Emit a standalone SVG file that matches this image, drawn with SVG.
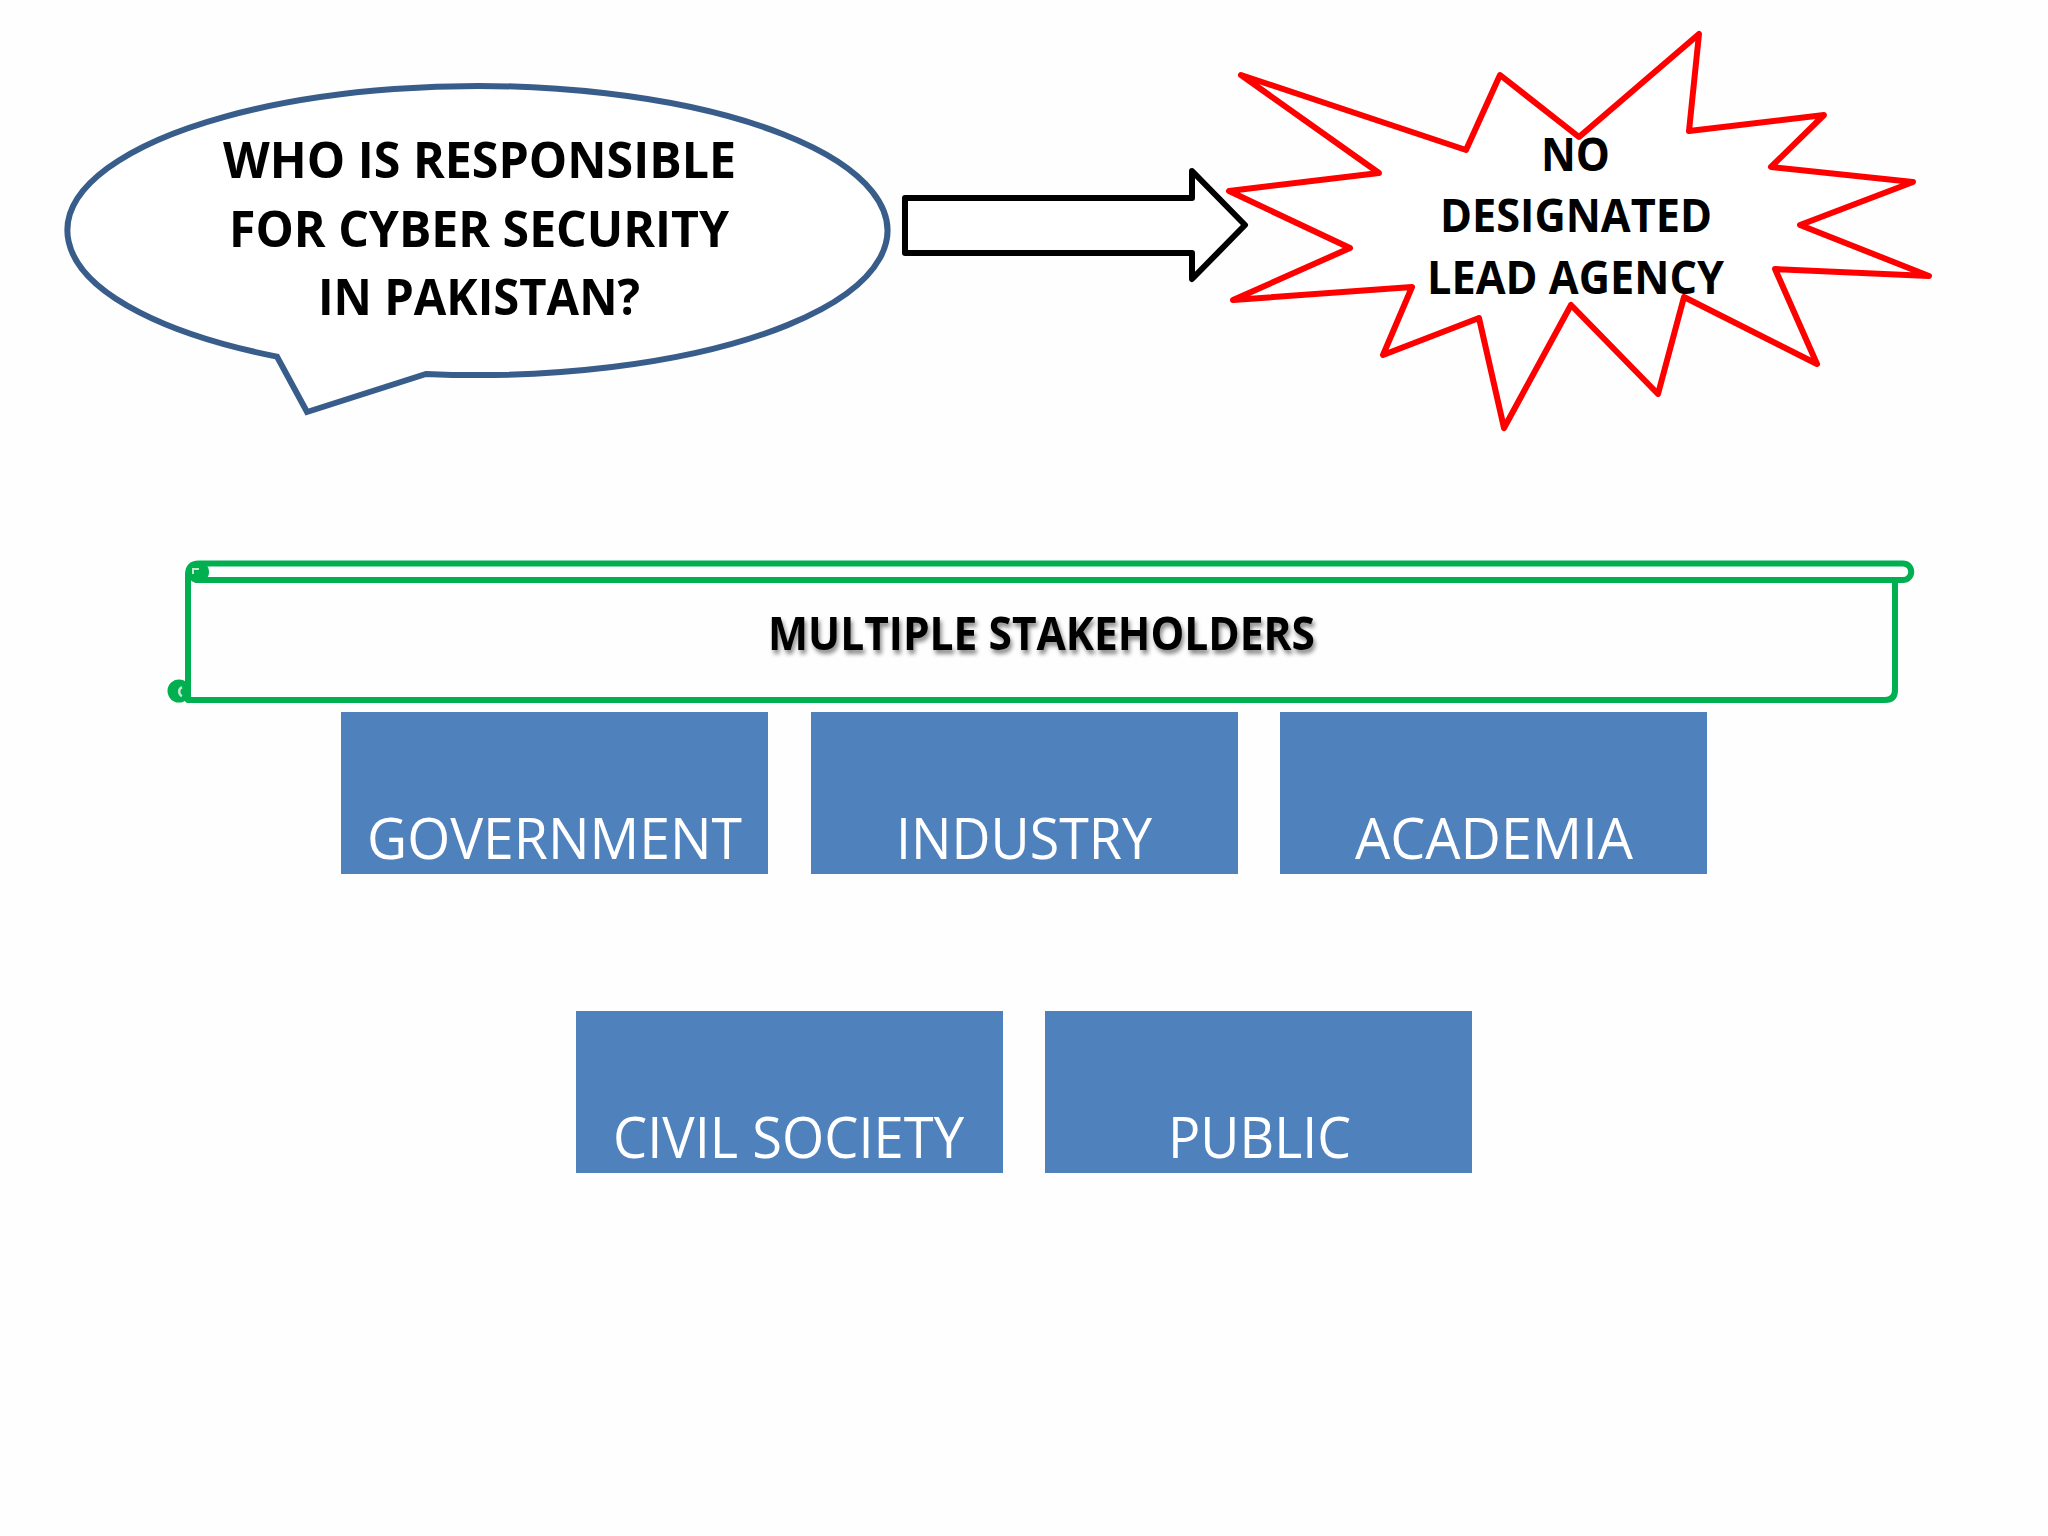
<svg xmlns="http://www.w3.org/2000/svg" width="2048" height="1536" viewBox="0 0 2048 1536">
<defs>
<style>
.h{font-family:"Open Sans","Liberation Sans",sans-serif;font-weight:700;fill:#000}
.b{font-family:"Open Sans","Liberation Sans",sans-serif;font-size:56px;fill:#fff}
.r{fill:#4f81bd}
.s{fill:none;stroke:#00b050;stroke-width:6;stroke-linejoin:round}
</style>
<filter id="ts" x="-5%" y="-30%" width="110%" height="170%"><feDropShadow dx="2" dy="4" stdDeviation="2" flood-color="#000" flood-opacity=".45"/></filter>
</defs>
<rect width="2048" height="1536" fill="#fefefe"/>
<g id="bubble">
<path d="M277,356.6 A410,144.5 0 1 1 426,373.9 L307,412 Z" fill="#fff" stroke="#385d8a" stroke-width="6" stroke-linejoin="miter"/>
<text class="h" font-size="51" x="223" y="178" textLength="513" lengthAdjust="spacingAndGlyphs">WHO IS RESPONSIBLE</text>
<text class="h" font-size="51" x="229" y="246.5" textLength="500" lengthAdjust="spacingAndGlyphs">FOR CYBER SECURITY</text>
<text class="h" font-size="51" x="318" y="315" textLength="322" lengthAdjust="spacingAndGlyphs">IN PAKISTAN?</text>
</g>
<g id="connectors">
<path d="M905,198 H1192 V171 L1245,225 L1192,279 V253 H905 Z" fill="#fff" stroke="#000" stroke-width="6" stroke-linejoin="round"/>
</g>
<g id="burst">
<path d="M1699,34 L1689,131 L1824,115 L1771,167 L1913,182 L1800,225 L1929,276 L1775,269 L1817,364 L1684,297 L1658,394 L1571,305 L1504,428 L1479,318 L1383,355 L1412,287 L1233,300 L1350,248 L1229,191 L1379,173 L1241,75 L1466,150 L1500,75 L1579,137 Z" fill="#fff" stroke="#ff0000" stroke-width="6" stroke-linejoin="round"/>
<text class="h" font-size="46" x="1541" y="171" textLength="69" lengthAdjust="spacingAndGlyphs">NO</text>
<text class="h" font-size="46" x="1440" y="232" textLength="272" lengthAdjust="spacingAndGlyphs">DESIGNATED</text>
<text class="h" font-size="46" x="1427" y="293.5" textLength="297" lengthAdjust="spacingAndGlyphs">LEAD AGENCY</text>
</g>
<g id="scroll">
<path class="s" d="M188,575 V700 H1885 Q1895,700 1895,690 V580"/>
<circle cx="179" cy="691" r="11.5" fill="#00b050"/>
<path d="M182,687 A5,5 0 0 0 182,696" fill="none" stroke="#bfe8cf" stroke-width="2.5"/>
<path class="s" d="M188,575 Q188,563.5 199,563.5 H1903 A8.25,8.25 0 0 1 1903,580 H195"/>
<circle cx="198" cy="572" r="11" fill="#00b050"/>
<path d="M193,574 V569 H199" fill="none" stroke="#bfe8cf" stroke-width="2"/>
<text class="h" font-size="46" x="768" y="649.5" textLength="547" lengthAdjust="spacingAndGlyphs" filter="url(#ts)">MULTIPLE STAKEHOLDERS</text>
</g>
<g id="government"><rect class="r" x="341" y="712" width="427" height="162"/><text class="b" x="367" y="858.5" textLength="375" lengthAdjust="spacingAndGlyphs">GOVERNMENT</text></g>
<g id="industry"><rect class="r" x="811" y="712" width="427" height="162"/><text class="b" x="896" y="858.5" textLength="256" lengthAdjust="spacingAndGlyphs">INDUSTRY</text></g>
<g id="academia"><rect class="r" x="1280" y="712" width="427" height="162"/><text class="b" x="1355" y="858.5" textLength="278" lengthAdjust="spacingAndGlyphs">ACADEMIA</text></g>
<g id="civil-society"><rect class="r" x="576" y="1011" width="427" height="162"/><text class="b" x="613" y="1157.5" textLength="351" lengthAdjust="spacingAndGlyphs">CIVIL SOCIETY</text></g>
<g id="public"><rect class="r" x="1045" y="1011" width="427" height="162"/><text class="b" x="1168" y="1157.5" textLength="183" lengthAdjust="spacingAndGlyphs">PUBLIC</text></g>
</svg>
